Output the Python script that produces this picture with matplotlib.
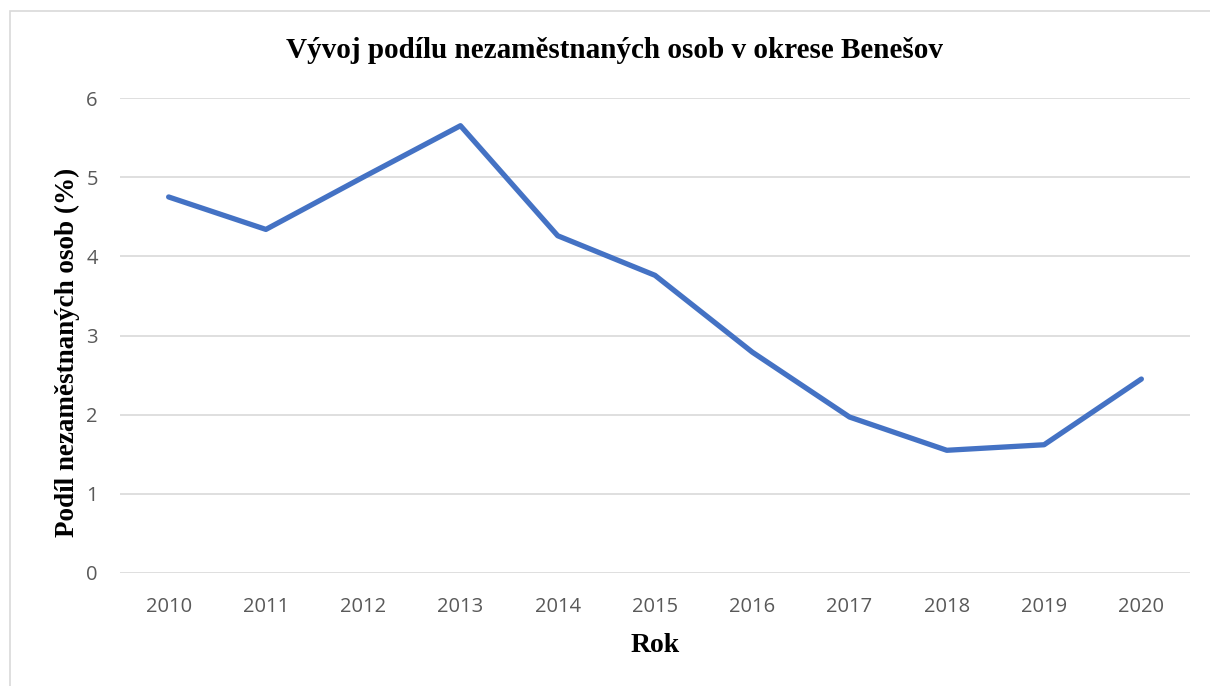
import matplotlib
matplotlib.use('Agg')
from matplotlib import pyplot as plt
from matplotlib.patches import Rectangle

roky = ['2010', '2011', '2012', '2013', '2014', '2015', '2016', '2017', '2018', '2019', '2020']
podil = [4.75, 4.34, 5.0, 5.65, 4.26, 3.76, 2.79, 1.97, 1.55, 1.62, 2.45]

fig = plt.figure(figsize=(12.1, 6.86), dpi=100)
ax = fig.add_axes([120 / 1210, 113 / 686, 1070 / 1210, 475 / 686])

# ramecek grafu
fig.patches.append(Rectangle((10 / 1210, -0.01), 1.1, 675 / 686 + 0.01,
                             transform=fig.transFigure, fill=False,
                             edgecolor='#D9D9D9', linewidth=1.2))

x = list(range(len(roky)))
ax.plot(x, podil, color='#4472C4', linewidth=3.8, solid_capstyle='round', solid_joinstyle='round')

ax.set_xlim(-0.5, len(roky) - 0.5)
ax.set_ylim(0, 6)
ax.set_yticks(range(0, 7))
ax.set_xticks(x)
ax.set_xticklabels(roky)
ax.yaxis.grid(True, color='#D9D9D9', linewidth=1.2)
ax.set_axisbelow(True)
for s in ax.spines.values():
    s.set_visible(False)
ax.tick_params(length=0, labelsize=14.5, labelcolor='#595959')
for lab in ax.get_xticklabels() + ax.get_yticklabels():
    lab.set_fontfamily('Open Sans')
ax.tick_params(axis='x', pad=17)
ax.tick_params(axis='y', pad=16)

fig.text(615 / 1210, 1 - 50 / 686, 'Vývoj podílu nezaměstnaných osob v okrese Benešov',
         fontfamily='Liberation Serif', fontweight='bold', fontsize=21,
         ha='center', va='center')
ax.set_xlabel('Rok', fontfamily='Liberation Serif', fontweight='bold', fontsize=20, labelpad=12)
ax.set_ylabel('Podíl nezaměstnaných osob (%)', fontfamily='Liberation Serif',
              fontweight='bold', fontsize=19.5)
ax.yaxis.set_label_coords(-0.037, 0.465)

fig.savefig('out.png', dpi=100)
